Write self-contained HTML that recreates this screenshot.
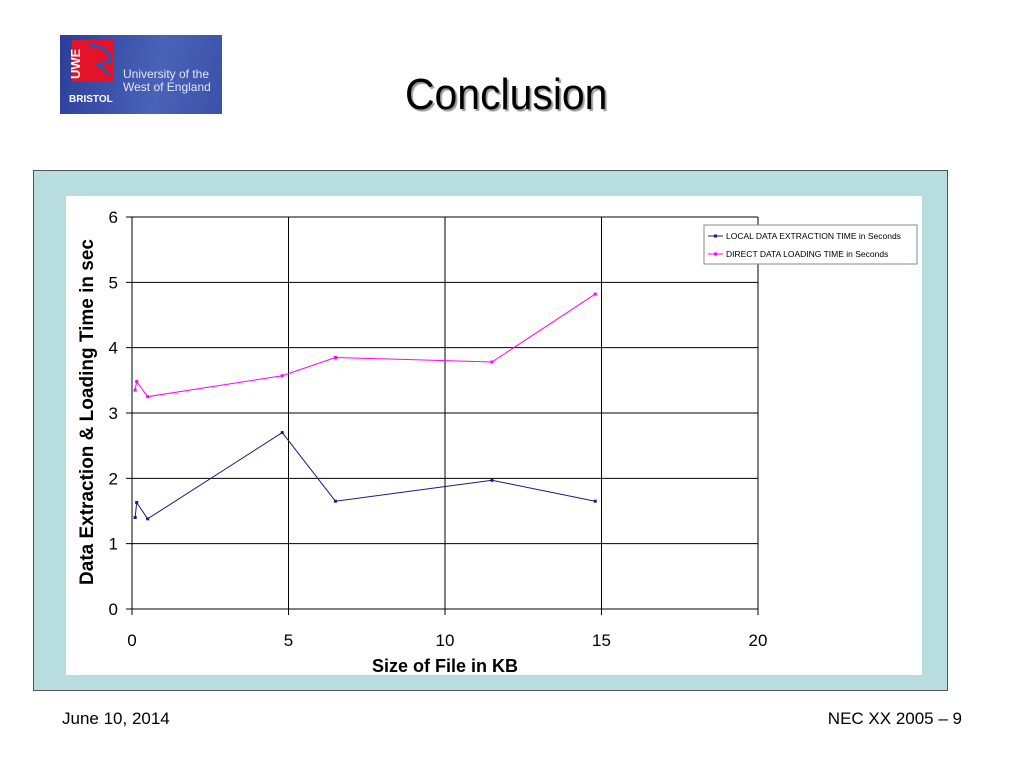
<!DOCTYPE html>
<html><head><meta charset="utf-8"><style>
body{margin:0;width:1024px;height:768px;background:#fff;position:relative;overflow:hidden;font-family:"Liberation Sans",sans-serif}
.abs{position:absolute}
</style></head><body>
<div class="abs" style="left:60px;top:35px;width:162px;height:79px;background:linear-gradient(100deg,#2b3f9a,#4a62b8 60%,#3a52a8)">
<svg width="162" height="79">
<rect x="12" y="5" width="42" height="42" fill="#e3132a"/>
<path d="M30 10 Q50 12 50 26 L38 30 L50 40" stroke="#3550a8" stroke-width="3" fill="none"/>
<text x="20" y="44" transform="rotate(-90 20 44)" font-size="13" fill="#fff" font-weight="bold" font-family="Liberation Sans">UWE</text>
<text x="9" y="67" font-size="10" fill="#fff" font-weight="bold" font-family="Liberation Sans">BRISTOL</text>
<text x="63" y="43" font-size="12" fill="#dfe6ff" font-family="Liberation Sans">University of the</text>
<text x="63" y="56" font-size="12" fill="#dfe6ff" font-family="Liberation Sans">West of England</text>
</svg></div>
<div class="abs" style="left:405px;top:70px;font-size:44px;color:#000;text-shadow:2px 2px 1px #999;transform:scaleX(0.93);transform-origin:left">Conclusion</div>
<div class="abs" style="left:33px;top:170px;width:913px;height:519px;background:#b7dde0;border:1px solid #555"></div>
<div class="abs" style="left:66px;top:196px;width:856px;height:479px;background:#fff"></div>
<svg class="abs" id="chart" style="left:0;top:0" width="1024" height="768"></svg>
<div class="abs" style="left:62px;top:709px;font-size:17px">June 10, 2014</div>
<div class="abs" style="left:806px;top:709px;width:156px;text-align:right;font-size:17px">NEC XX 2005 – 9</div>
<script>
const xValues=[0.1,0.15,0.5,4.8,6.5,11.5,14.8];
const localExtraction=[1.4,1.63,1.38,2.7,1.65,1.97,1.65];
const directLoading=[3.35,3.48,3.25,3.57,3.85,3.78,4.82];
const xTicks=[0,5,10,15,20];
const yTicks=[0,1,2,3,4,5,6];
const NS="http://www.w3.org/2000/svg";
const svg=document.getElementById('chart');
const X0=132,X1=758,Y0=609,Y1=217;
const sx=v=>X0+(v-0)/(20-0)*(X1-X0);
const sy=v=>Y0-(v-0)/(6-0)*(Y0-Y1);
function mk(t,a){const e=document.createElementNS(NS,t);for(const k in a)e.setAttribute(k,a[k]);svg.appendChild(e);return e;}
yTicks.forEach(v=>{
 const l=mk('line',{x1:X0-6,x2:X1,y1:sy(v),y2:sy(v),stroke:'#000','stroke-width':1});
 
 
 const t=mk('text',{x:X0-14,y:sy(v)+6,'font-size':17,'text-anchor':'end','font-family':'Liberation Sans'});t.textContent=v;
 
 
});
xTicks.forEach(v=>{
 const l=mk('line',{x1:sx(v),x2:sx(v),y1:Y1,y2:Y0+6,stroke:'#000','stroke-width':1});
 
 
 const t=mk('text',{x:sx(v),y:Y0+37,'font-size':17,'text-anchor':'middle','font-family':'Liberation Sans'});t.textContent=v;
 
 
});
function series(vals,color,name){
 const p=mk('polyline',{points:xValues.map((x,i)=>sx(x)+','+sy(vals[i])).join(' '),fill:'none',stroke:color,'stroke-width':1});
 
 
 xValues.forEach((x,i)=>{
  const r=mk('rect',{x:sx(x)-1.5,y:sy(vals[i])-1.5,width:3,height:3,fill:color});
  
  
 });
}
series(localExtraction,'#1a1a80','local-extraction');
series(directLoading,'#ff00ff','direct-loading');
const xt=mk('text',{x:445,y:672,'font-size':18,'font-weight':'bold','text-anchor':'middle','font-family':'Liberation Sans'});xt.textContent='Size of File in KB';


const yt=mk('text',{x:93,y:412,'font-size':19,'font-weight':'bold','text-anchor':'middle','font-family':'Liberation Sans',transform:'rotate(-90 93 412)'});yt.textContent='Data Extraction & Loading Time in sec';


const lg=mk('rect',{x:704,y:225,width:213,height:39,fill:'#fff',stroke:'#888'});


[['LOCAL DATA EXTRACTION  TIME in Seconds','#1a1a80',236],['DIRECT DATA LOADING  TIME in Seconds','#ff00ff',254]].forEach(([txt,c,y])=>{
 const l=mk('line',{x1:708,x2:723,y1:y,y2:y,stroke:c});
 
 
 mk('rect',{x:714,y:y-1.5,width:3,height:3,fill:c});
 const t=mk('text',{x:726,y:y+3,'font-size':8.5,'font-family':'Liberation Sans'});t.textContent=txt;
 
 
});
</script>
</body></html>
